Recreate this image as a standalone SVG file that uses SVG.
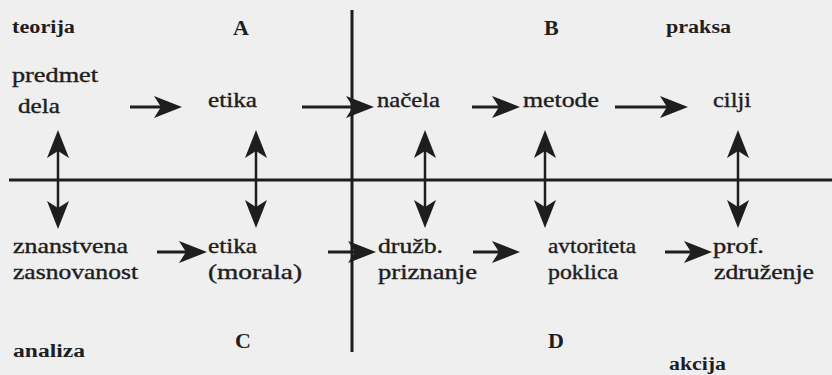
<svg xmlns="http://www.w3.org/2000/svg" width="832" height="375" viewBox="0 0 832 375">
<style>
.t{font-family:"Liberation Serif","Times New Roman",serif;font-size:22px;fill:#1e1e1e;stroke:#1e1e1e;stroke-width:0.4}
.b{font-family:"Liberation Serif","Times New Roman",serif;font-size:18px;font-weight:bold;fill:#1e1e1e}
.L{font-family:"Liberation Serif","Times New Roman",serif;font-size:22px;font-weight:bold;fill:#1e1e1e}
.ax{stroke:#1e1e1e;stroke-width:3;fill:none}
.ar{stroke:#1e1e1e;stroke-width:3;fill:none;marker-end:url(#h)}
.da{stroke:#1e1e1e;stroke-width:2.5;fill:none;marker-end:url(#h);marker-start:url(#h)}
</style>
<defs>
<marker id="h" markerUnits="userSpaceOnUse" viewBox="-16 -12 32 24" refX="-14" refY="0" markerWidth="32" markerHeight="24" orient="auto-start-reverse" overflow="visible">
<path d="M0,0 L-28,-11 L-21,0 L-28,11 Z" fill="#1e1e1e"/>
</marker>
</defs>
<rect width="832" height="375" fill="#efefef"/>
<g id="axes">
<line class="ax" x1="9" y1="180" x2="832" y2="180"/>
<line class="ax" x1="352" y1="10" x2="352" y2="352"/>
</g>
<g id="connectors">
<line class="ar" x1="130" y1="107" x2="168" y2="107"/>
<line class="ar" x1="302" y1="107" x2="360" y2="107"/>
<line class="ar" x1="472" y1="107" x2="506" y2="107"/>
<line class="ar" x1="615" y1="107" x2="674" y2="107"/>
<line class="ar" x1="157" y1="252" x2="193" y2="252"/>
<line class="ar" x1="328" y1="252" x2="362" y2="252"/>
<line class="ar" x1="473" y1="252" x2="506" y2="252"/>
<line class="ar" x1="665" y1="252" x2="698" y2="252"/>
<line class="da" x1="58" y1="144" x2="58" y2="215"/>
<line class="da" x1="256" y1="144" x2="256" y2="214"/>
<line class="da" x1="425" y1="144" x2="425" y2="214"/>
<line class="da" x1="545" y1="144" x2="545" y2="214"/>
<line class="da" x1="738" y1="144" x2="738" y2="214"/>
</g>
<g id="labels">
<text class="b" x="12" y="33" textLength="63" lengthAdjust="spacingAndGlyphs">teorija</text>
<text class="L" x="233" y="35">A</text>
<text class="L" x="544" y="35">B</text>
<text class="b" x="666" y="33" textLength="65" lengthAdjust="spacingAndGlyphs">praksa</text>
<text class="L" x="235" y="348">C</text>
<text class="L" x="548" y="348">D</text>
<text class="b" x="13" y="357" textLength="72" lengthAdjust="spacingAndGlyphs">analiza</text>
<text class="b" x="669" y="370" textLength="57" lengthAdjust="spacingAndGlyphs">akcija</text>
</g>
<g id="n-predmet"><text class="t" x="12" y="82" textLength="86" lengthAdjust="spacingAndGlyphs">predmet</text><text class="t" x="18" y="113" textLength="42" lengthAdjust="spacingAndGlyphs">dela</text></g>
<g id="n-etika"><text class="t" x="208" y="107" textLength="49" lengthAdjust="spacingAndGlyphs">etika</text></g>
<g id="n-nacela"><text class="t" x="377" y="107" textLength="63" lengthAdjust="spacingAndGlyphs">načela</text></g>
<g id="n-metode"><text class="t" x="523" y="107" textLength="76" lengthAdjust="spacingAndGlyphs">metode</text></g>
<g id="n-cilji"><text class="t" x="713" y="107" textLength="38" lengthAdjust="spacingAndGlyphs">cilji</text></g>
<g id="n-znanstvena"><text class="t" x="13" y="253" textLength="115" lengthAdjust="spacingAndGlyphs">znanstvena</text><text class="t" x="13" y="279" textLength="125" lengthAdjust="spacingAndGlyphs">zasnovanost</text></g>
<g id="n-etika-morala"><text class="t" x="208" y="253" textLength="49" lengthAdjust="spacingAndGlyphs">etika</text><text class="t" x="208" y="279" textLength="94" lengthAdjust="spacingAndGlyphs">(morala)</text></g>
<g id="n-druzb"><text class="t" x="378" y="253" textLength="65" lengthAdjust="spacingAndGlyphs">družb.</text><text class="t" x="378" y="279" textLength="99" lengthAdjust="spacingAndGlyphs">priznanje</text></g>
<g id="n-avtoriteta"><text class="t" x="548" y="253" textLength="88" lengthAdjust="spacingAndGlyphs">avtoriteta</text><text class="t" x="548" y="279" textLength="70" lengthAdjust="spacingAndGlyphs">poklica</text></g>
<g id="n-prof"><text class="t" x="713" y="253" textLength="51" lengthAdjust="spacingAndGlyphs">prof.</text><text class="t" x="714" y="279" textLength="100" lengthAdjust="spacingAndGlyphs">združenje</text></g>
</svg>
